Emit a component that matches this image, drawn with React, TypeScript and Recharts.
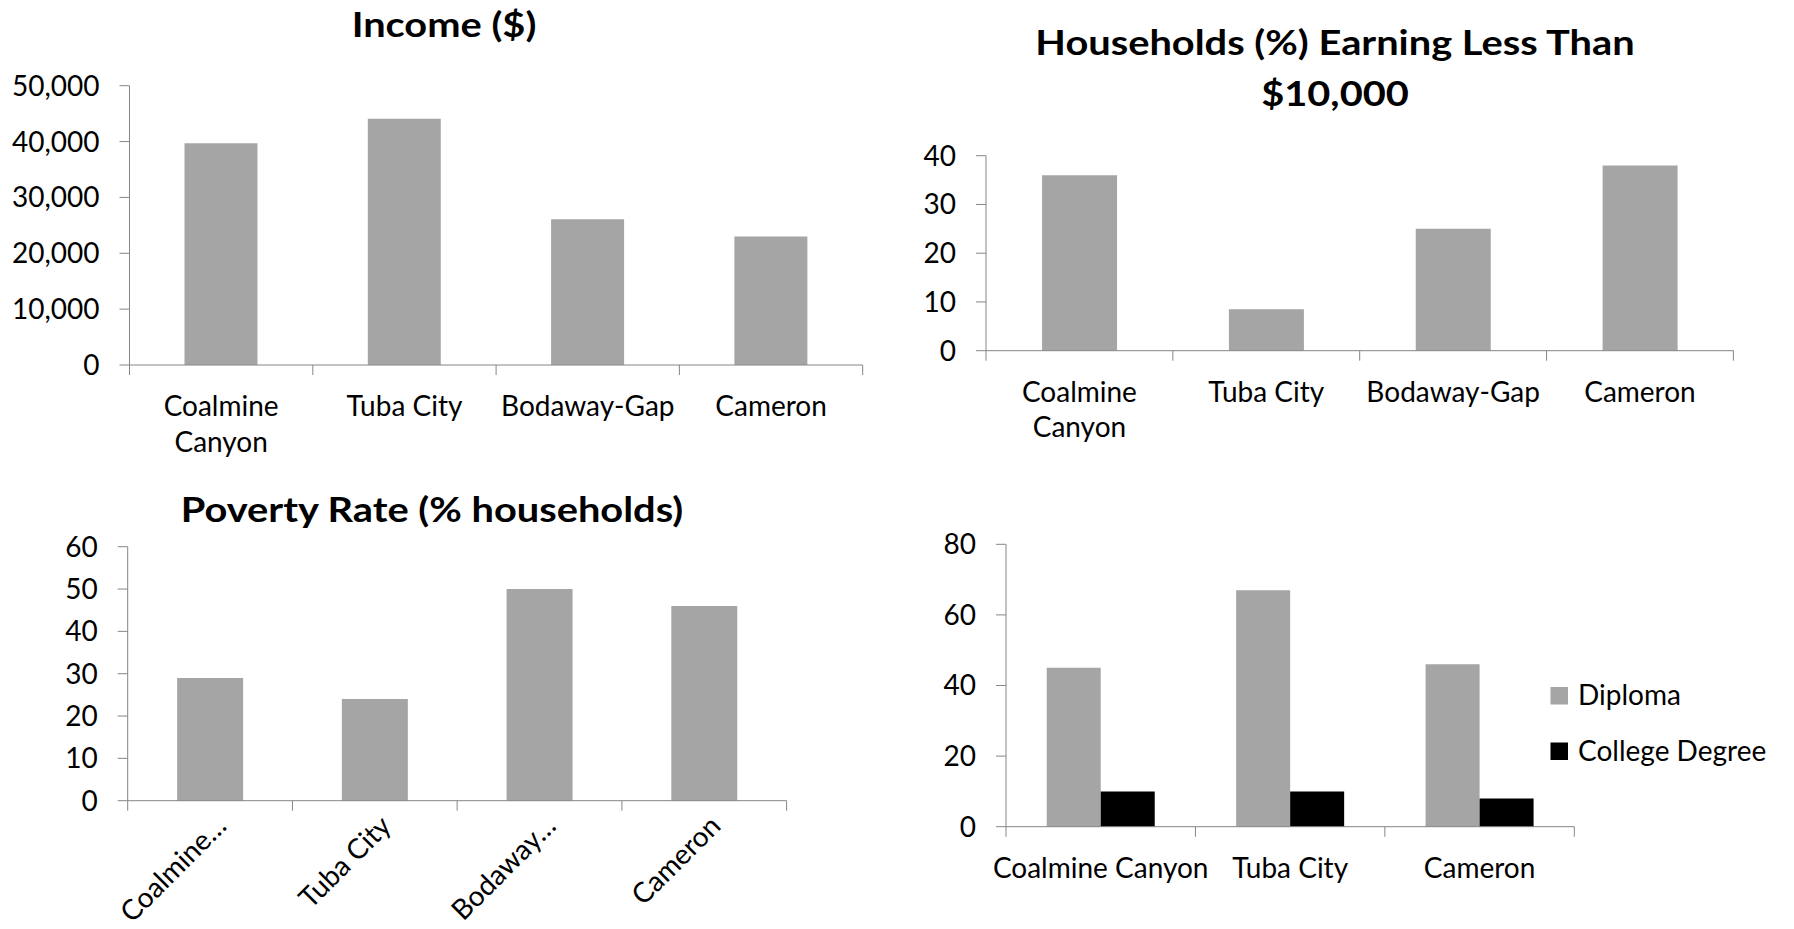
import { BarChart, Bar, XAxis, YAxis } from "recharts";

const FONT = "Lato, 'Open Sans', sans-serif";
const AXIS_COLOR = "#868686";
const GRAY = "#A5A5A5";
const BLACK = "#000000";
const TICK_LEN = 10;
const LABEL_SIZE = 28;
const TITLE_STRETCH = 1.17;

// Median household income
const incomeTitle = ["Income ($)"];
const incomePlaces = ["Coalmine Canyon", "Tuba City", "Bodaway-Gap", "Cameron"];
const incomeValues = [39700, 44100, 26100, 23000];
const incomeTicks = [0, 10000, 20000, 30000, 40000, 50000];

// Households earning under $10k
const lowEarnerTitle = ["Households (%) Earning Less Than", "$10,000"];
const lowEarnerPlaces = ["Coalmine Canyon", "Tuba City", "Bodaway-Gap", "Cameron"];
const lowEarnerValues = [36, 8.5, 25, 38];
const lowEarnerTicks = [0, 10, 20, 30, 40];

// Poverty rate
const povertyTitle = ["Poverty Rate (% households)"];
const povertyPlaces = ["Coalmine Canyon", "Tuba City", "Bodaway-Gap", "Cameron"];
const povertyValues = [29, 24, 50, 46];
const povertyTicks = [0, 10, 20, 30, 40, 50, 60];

// Education attainment
const educationPlaces = ["Coalmine Canyon", "Tuba City", "Cameron"];
const diplomaValues = [45, 67, 46];
const collegeValues = [10, 10, 8];
const educationTicks = [0, 20, 40, 60, 80];
const educationSeries = ["Diploma", "College Degree"];

type Frame = {
  left: number;
  top: number;
  width: number;
  height: number;
  plotLeft: number;
  plotRight: number;
  plotTop: number;
  plotBottom: number;
};

type BarSpec = { key: string; name: string; color: string };

type LabelMode = "wrap" | "single" | "rotated";

interface PanelProps {
  frame: Frame;
  rows: Record<string, string | number>[];
  bars: BarSpec[];
  ticks: number[];
  labelMode: LabelMode;
  categoryGap: string;
  format?: (v: number) => string;
}

function Panel({ frame, rows, bars, ticks, labelMode, categoryGap, format }: PanelProps) {
  const count = rows.length;
  const band = (frame.plotRight - frame.plotLeft) / count;
  const axisY = frame.plotBottom;

  // category labels plus Excel-style tick marks between categories
  const renderTick = (props: any) => {
    const { x, payload, index } = props;
    const label = String(payload.value);
    const marks = [
      <line key="l" x1={x - band / 2} x2={x - band / 2} y1={axisY} y2={axisY + TICK_LEN} stroke={AXIS_COLOR} />,
    ];
    if (index === count - 1) {
      marks.push(
        <line key="r" x1={x + band / 2} x2={x + band / 2} y1={axisY} y2={axisY + TICK_LEN} stroke={AXIS_COLOR} />
      );
    }
    let text;
    if (labelMode === "rotated") {
      const short = label.length > 9 ? label.split(/[ -]/)[0] + "\u2026" : label;
      text = (
        <text
          transform={`translate(${x + 18},${axisY + 27}) rotate(-45)`}
          textAnchor="end"
          fontFamily={FONT}
          fontSize={LABEL_SIZE}
          fill="#000"
        >
          {short}
        </text>
      );
    } else {
      const lines =
        labelMode === "wrap" && label.length > 12 && label.includes(" ") ? label.split(" ") : [label];
      text = (
        <text x={x} y={axisY + 51} textAnchor="middle" fontFamily={FONT} fontSize={LABEL_SIZE} fill="#000">
          {lines.map((l, i) => (
            <tspan key={i} x={x} dy={i === 0 ? 0 : 35.7}>
              {l}
            </tspan>
          ))}
        </text>
      );
    }
    return (
      <g>
        {marks}
        {text}
      </g>
    );
  };

  return (
    <div style={{ position: "absolute", left: frame.left, top: frame.top }}>
      <BarChart
        width={frame.width}
        height={frame.height}
        data={rows}
        margin={{ top: frame.plotTop, right: frame.width - frame.plotRight, left: 0, bottom: 0 }}
        barCategoryGap={categoryGap}
        barGap={0}
      >
        <XAxis
          dataKey="place"
          interval={0}
          height={frame.height - frame.plotBottom}
          axisLine={{ stroke: AXIS_COLOR }}
          tickLine={false}
          tick={renderTick}
        />
        <YAxis
          type="number"
          domain={[ticks[0], ticks[ticks.length - 1]]}
          ticks={ticks}
          interval={0}
          width={frame.plotLeft}
          tickSize={TICK_LEN}
          tickMargin={20}
          axisLine={{ stroke: AXIS_COLOR }}
          tickLine={{ stroke: AXIS_COLOR }}
          tick={{ fill: "#000", fontSize: LABEL_SIZE, fontFamily: FONT }}
          tickFormatter={format}
        />
        {bars.map((b) => (
          <Bar key={b.key} dataKey={b.key} name={b.name} fill={b.color} isAnimationActive={false} />
        ))}
      </BarChart>
    </div>
  );
}

const single = (places: string[], values: number[]) =>
  places.map((place, i) => ({ place, value: values[i] }));

const incomeRows = single(incomePlaces, incomeValues);
const lowEarnerRows = single(lowEarnerPlaces, lowEarnerValues);
const povertyRows = single(povertyPlaces, povertyValues);
const educationRows = educationPlaces.map((place, i) => ({
  place,
  diploma: diplomaValues[i],
  college: collegeValues[i],
}));

const educationColors = [GRAY, BLACK];

// bold panel heading, widened a little to match the chart's heading face
function Title({ x, y, text }: { x: number; y: number; text: string }) {
  return (
    <text
      transform={`translate(${x},${y}) scale(${TITLE_STRETCH},1)`}
      textAnchor="middle"
      fontFamily={FONT}
      fontWeight={700}
      fontSize={34}
      fill="#000"
    >
      {text}
    </text>
  );
}

export default function App() {
  return (
    <div style={{ position: "absolute", left: 0, top: 0, width: 1794, height: 929, background: "#fff" }}>
      <Panel
        frame={{ left: 0, top: 0, width: 897, height: 465, plotLeft: 129.5, plotRight: 862.7, plotTop: 85.7, plotBottom: 365 }}
        rows={incomeRows}
        bars={[{ key: "value", name: "Income", color: GRAY }]}
        ticks={incomeTicks}
        labelMode="wrap"
        categoryGap="30%"
        format={(v) => v.toLocaleString("en-US")}
      />
      <Panel
        frame={{ left: 897, top: 0, width: 897, height: 465, plotLeft: 89, plotRight: 836.4, plotTop: 155.7, plotBottom: 350.7 }}
        rows={lowEarnerRows}
        bars={[{ key: "value", name: "Households", color: GRAY }]}
        ticks={lowEarnerTicks}
        labelMode="wrap"
        categoryGap="30%"
      />
      <Panel
        frame={{ left: 0, top: 465, width: 897, height: 464, plotLeft: 127.7, plotRight: 786.6, plotTop: 81.7, plotBottom: 335.7 }}
        rows={povertyRows}
        bars={[{ key: "value", name: "Poverty", color: GRAY }]}
        ticks={povertyTicks}
        labelMode="rotated"
        categoryGap="30%"
      />
      <Panel
        frame={{ left: 897, top: 465, width: 897, height: 464, plotLeft: 109, plotRight: 677.3, plotTop: 79.3, plotBottom: 361.7 }}
        rows={educationRows}
        bars={[
          { key: "diploma", name: educationSeries[0], color: GRAY },
          { key: "college", name: educationSeries[1], color: BLACK },
        ]}
        ticks={educationTicks}
        labelMode="single"
        categoryGap="21.5%"
      />
      <svg
        width={1794}
        height={929}
        style={{ position: "absolute", left: 0, top: 0, pointerEvents: "none" }}
      >
        <Title x={444} y={37} text={incomeTitle[0]} />
        {lowEarnerTitle.map((t, i) => (
          <Title key={t} x={1335} y={55 + i * 51} text={t} />
        ))}
        <Title x={432} y={521.5} text={povertyTitle[0]} />
        {educationSeries.map((name, i) => (
          <g key={name}>
            <rect x={1550.5} y={687 + i * 55.5} width={17.5} height={17.5} fill={educationColors[i]} />
            <text x={1578} y={705 + i * 55.5} fontFamily={FONT} fontSize={LABEL_SIZE} fill="#000">
              {name}
            </text>
          </g>
        ))}
      </svg>
    </div>
  );
}
